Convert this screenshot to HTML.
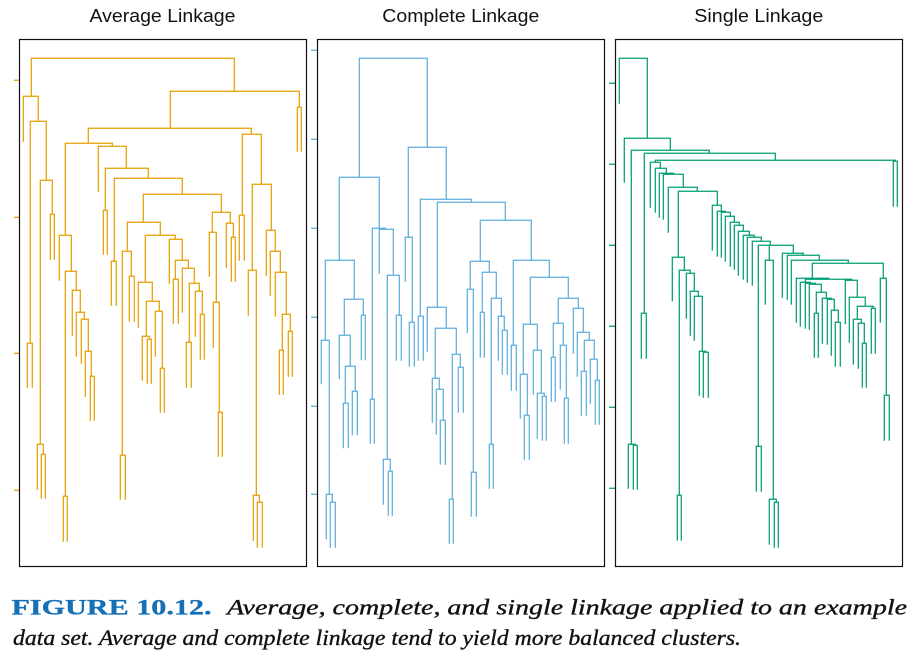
<!DOCTYPE html>
<html>
<head>
<meta charset="utf-8">
<style>
html,body{margin:0;padding:0;background:#fff;}
svg{display:block;}
</style>
</head>
<body>
<svg width="916" height="657" viewBox="0 0 916 657" xmlns="http://www.w3.org/2000/svg">
<rect x="0" y="0" width="916" height="657" fill="#fff"/>

<g font-family="'Liberation Sans', Arial, sans-serif" font-size="18" fill="#111" text-anchor="middle">
<text x="162.5" y="22" textLength="146" lengthAdjust="spacingAndGlyphs">Average Linkage</text>
<text x="460.8" y="22" textLength="157" lengthAdjust="spacingAndGlyphs">Complete Linkage</text>
<text x="758.8" y="22" textLength="129" lengthAdjust="spacingAndGlyphs">Single Linkage</text>
</g>

<g fill="none" stroke="#E69F00" stroke-width="1.25">
<path d="M14 80.3H19.5M14 217.3H19.5M14 353.3H19.5M14 490.3H19.5"/>
<path d="M31.3 96.3V58.3H234.3V91.3 M23.3 141.7V96.3H38.3V121.3 M30.3 343.3V121.3H46.3V180.3 M27.3 387.7V343.3H32.3V387.7 M40.3 444.3V180.3H52.3V214.3 M37.3 489.7V444.3H43.3V454.3 M41.3 498.7V454.3H45.3V498.7 M50.3 259.7V214.3H54.3V259.7 M170.3 128.3V91.3H299.3V107.3 M297.3 151.7V107.3H301.3V151.7 M88.3 143.3V128.3H251.3V134.3 M242.3 215.3V134.3H261.3V184.3 M239.3 260.7V215.3H244.3V260.7 M252.3 270.3V184.3H271.3V230.3 M248.3 315.7V270.3H256.3V495.3 M253.3 540.7V495.3H259.3V502.3 M257.3 547.7V502.3H262.3V547.7 M266.3 275.7V230.3H275.3V251.3 M270.3 295.7V251.3H280.3V272.3 M275.3 316.7V272.3H286.3V314.3 M282.3 350.3V314.3H290.3V331.3 M279.3 394.7V350.3H283.3V394.7 M288.3 376.7V331.3H292.3V376.7 M65.3 235.3V143.3H112.3V146.3 M59.3 280.7V235.3H71.3V271.3 M65.3 496.3V271.3H76.3V290.3 M63.3 541.7V496.3H67.3V541.7 M72.3 335.7V290.3H80.3V312.3 M76.3 356.7V312.3H84.3V319.3 M81.3 363.7V319.3H88.3V351.3 M85.3 396.7V351.3H91.3V376.3 M90.3 420.7V376.3H94.3V420.7 M98.3 191.7V146.3H126.3V168.3 M105.3 210.3V168.3H148.3V178.3 M103.3 254.7V210.3H107.3V254.7 M114.3 261.3V178.3H182.3V194.3 M111.3 305.7V261.3H116.3V305.7 M143.3 222.3V194.3H221.3V212.3 M127.3 251.3V222.3H160.3V235.3 M122.3 455.3V251.3H131.3V276.3 M120.3 499.7V455.3H125.3V499.7 M129.3 321.7V276.3H134.3V321.7 M145.3 282.3V235.3H175.3V239.3 M138.3 327.7V282.3H152.3V301.3 M146.3 336.3V301.3H159.3V311.3 M142.3 380.7V336.3H149.3V339.3 M147.3 383.7V339.3H151.3V383.7 M155.3 356.7V311.3H162.3V368.3 M160.3 412.7V368.3H164.3V412.7 M169.3 284.3V239.3H182.3V260.3 M175.3 279.3V260.3H188.3V268.3 M173.3 323.7V279.3H178.3V323.7 M182.3 312.7V268.3H194.3V283.3 M189.3 342.3V283.3H199.3V291.3 M186.3 387.7V342.3H191.3V387.7 M195.3 336.7V291.3H202.3V314.3 M200.3 359.7V314.3H204.3V359.7 M212.3 232.3V212.3H230.3V223.3 M209.3 276.7V232.3H216.3V302.3 M213.3 347.7V302.3H219.3V412.3 M218.3 456.7V412.3H222.3V456.7 M226.3 267.7V223.3H233.3V237.3 M231.3 281.7V237.3H235.3V281.7"/>
</g>

<g fill="none" stroke="#5DAFDC" stroke-width="1.25">
<path d="M311 50.3H317.5M311 139.3H317.5M311 228.3H317.5M311 317.3H317.5M311 406.3H317.5M311 494.3H317.5"/>
<path d="M359.3 177.3V58.3H427.3V147.3 M339.3 260.3V177.3H379.3V228.3 M325.3 340.3V260.3H354.3V299.3 M321.3 384.3V340.3H329.3V494.3 M326.3 539.3V494.3H332.3V502.3 M330.3 547.7V502.3H335.3V547.7 M344.3 335.3V299.3H363.3V315.3 M339.3 379.3V335.3H350.3V366.3 M345.3 403.3V366.3H355.3V391.3 M343.3 448.3V403.3H348.3V448.3 M352.3 435.3V391.3H357.3V435.3 M361.3 360.3V315.3H365.3V360.3 M372.3 399.3V228.3H385.7V229.3 M370.3 443.7V399.3H374.3V443.7 M379.3 273.7V229.3H393.3V275.3 M387.3 459.3V275.3H399.3V315.3 M383.3 504.7V459.3H390.3V471.3 M388.3 515.7V471.3H392.3V515.7 M396.3 360.7V315.3H401.3V360.7 M408.3 237.3V147.3H446.3V199.3 M405.3 281.7V237.3H412.3V322.3 M409.3 366.7V322.3H414.3V366.7 M420.3 316.3V199.3H471.3V202.3 M418.3 360.7V316.3H423.3V360.7 M437.3 307.3V202.3H505.3V220.3 M427.3 351.7V307.3H446.3V328.3 M435.3 378.3V328.3H456.3V354.3 M432.3 422.7V378.3H439.3V389.3 M436.3 434.7V389.3H443.3V420.3 M440.3 464.7V420.3H445.3V464.7 M452.3 499.3V354.3H460.3V367.3 M449.3 543.7V499.3H453.3V543.7 M458.3 412.7V367.3H463.3V412.7 M480.3 261.3V220.3H531.3V260.3 M470.3 289.3V261.3H489.3V272.3 M467.3 333.3V289.3H473.3V472.3 M471.3 516.7V472.3H476.3V516.7 M482.3 312.3V272.3H496.3V298.3 M480.3 357.7V312.3H484.3V357.7 M491.3 444.3V298.3H501.3V316.3 M489.3 488.7V444.3H493.3V488.7 M498.3 360.7V316.3H504.3V330.3 M502.3 374.7V330.3H507.3V374.7 M513.3 345.3V260.3H549.3V277.3 M511.3 390.7V345.3H516.3V390.7 M530.3 324.3V277.3H568.3V298.3 M523.3 374.3V324.3H537.3V350.3 M520.3 418.7V374.3H527.3V415.3 M524.3 459.7V415.3H529.3V459.7 M533.3 394.7V350.3H541.3V393.3 M537.3 438.7V393.3H544.3V396.3 M542.3 440.7V396.3H546.3V440.7 M558.3 323.3V298.3H578.3V308.3 M553.3 357.3V323.3H563.3V345.3 M551.3 401.7V357.3H555.3V401.7 M560.3 389.7V345.3H566.3V398.3 M564.3 443.7V398.3H568.3V443.7 M573.3 353.7V308.3H583.3V332.3 M577.3 376.7V332.3H589.3V340.3 M584.3 371.3V340.3H594.3V359.3 M581.3 415.7V371.3H586.3V415.7 M590.3 403.7V359.3H597.3V380.3 M595.3 424.7V380.3H599.3V424.7"/>
</g>

<g fill="none" stroke="#009E73" stroke-width="1.25">
<path d="M609 83.3H615.5M609 164.3H615.5M609 245.3H615.5M609 326.3H615.5M609 407.3H615.5M609 488.3H615.5"/>
<path d="M619.3 103.7V58.3H647.3V138.3 M624.3 182.7V138.3H670.3V150.3 M631.3 444.3V150.3H709.3V153.3 M628.3 488.7V444.3H635.3V445.3 M633.3 489.7V445.3H637.3V489.7 M644.3 313.3V153.3H775.3V160.3 M641.3 358.7V313.3H646.3V358.7 M655.3 162.3V160.3H895.3V161.3 M893.3 206.7V161.3H897.3V206.7 M650.3 207.7V162.3H660.3V168.3 M655.3 212.7V168.3H666.3V173.3 M659.3 217.7V173.3H673.7V174.3 M663.3 219.7V174.3H683.3V187.3 M668.3 232.7V187.3H697.3V191.3 M678.3 257.3V191.3H717.3V205.3 M672.3 301.3V257.3H684.3V270.3 M679.3 495.3V270.3H690.3V273.3 M677.3 540.7V495.3H681.3V540.7 M686.3 318.7V273.3H694.3V291.3 M690.3 335.7V291.3H698.3V296.3 M694.3 340.7V296.3H702.3V351.3 M699.3 395.7V351.3H705.7V352.3 M703.3 397.7V352.3H708.3V397.7 M712.3 250.7V205.3H721.3V211.3 M717.3 256.7V211.3H725.3V212.3 M721.3 257.7V212.3H730.3V216.3 M725.3 261.7V216.3H734.3V222.3 M730.3 266.7V222.3H739.3V225.3 M734.3 269.7V225.3H743.3V231.3 M738.3 275.7V231.3H749.3V235.3 M743.3 279.7V235.3H754.3V237.3 M747.3 282.7V237.3H761.3V241.3 M752.3 285.7V241.3H770.3V245.3 M758.3 446.3V245.3H793.3V253.3 M769.3 260.3V245.3 M756.3 491.7V446.3H761.3V491.7 M765.3 304.7V260.3H773.3V499.3 M769.3 544.7V499.3H776.3V502.3 M774.3 547.7V502.3H778.3V547.7 M782.3 297.7V253.3H803.3V255.3 M787.3 299.7V255.3H819.3V260.3 M791.3 304.7V260.3H848.3V263.3 M812.3 278.3V263.3H883.3V278.3 M880.3 322.7V278.3H886.3V395.3 M884.3 440.7V395.3H889.3V440.7 M796.3 322.7V278.3H828.7V279.3 M805.3 282.3V279.3H851.7V280.3 M800.3 326.7V282.3H810.3V283.3 M805.3 328.7V283.3H815.3V284.3 M809.3 329.7V284.3H821.3V292.3 M816.3 313.3V292.3H826.3V298.3 M814.3 357.7V313.3H818.3V357.7 M822.3 343.7V298.3H831.3V299.3 M827.3 344.7V299.3H834.3V310.3 M831.3 355.7V310.3H838.3V322.3 M835.3 366.7V322.3H840.3V366.7 M845.3 324.3V280.3H857.3V297.3 M849.3 342.7V297.3H865.3V306.3 M857.3 319.3V306.3H873.3V308.3 M853.3 364.7V319.3H861.3V323.3 M858.3 368.7V323.3H864.3V343.3 M862.3 387.7V343.3H866.3V387.7 M871.3 353.7V308.3H875.3V353.7"/>
</g>

<g fill="none" stroke="#111" stroke-width="1.2">
<rect x="19.5" y="39.5" width="287" height="527"/>
<rect x="317.5" y="39.5" width="287" height="527"/>
<rect x="615.5" y="39.5" width="287" height="527"/>
</g>

<text x="11.5" y="614.5" font-family="'Liberation Serif', 'Times New Roman', serif" font-weight="bold" font-size="22" fill="#1570B5" stroke="#1570B5" stroke-width="0.3" textLength="200" lengthAdjust="spacingAndGlyphs">FIGURE 10.12.</text>
<text x="227" y="614.5" font-family="'Liberation Serif', 'Times New Roman', serif" font-style="italic" font-size="22" fill="#111" stroke="#111" stroke-width="0.35" textLength="680" lengthAdjust="spacingAndGlyphs">Average, complete, and single linkage applied to an example</text>
<text x="13" y="645" font-family="'Liberation Serif', 'Times New Roman', serif" font-style="italic" font-size="22" fill="#111" stroke="#111" stroke-width="0.35" textLength="728" lengthAdjust="spacingAndGlyphs">data set. Average and complete linkage tend to yield more balanced clusters.</text>
</svg>
</body>
</html>
